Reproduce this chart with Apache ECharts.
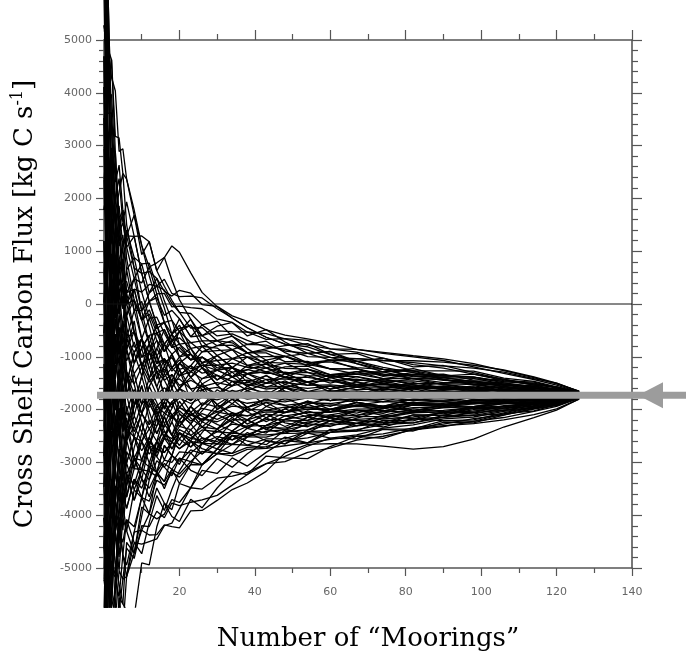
<!DOCTYPE html>
<html>
<head>
<meta charset="utf-8">
<title>Cross shelf carbon flux vs number of moorings</title>
<script src="https://cdn.jsdelivr.net/npm/echarts@6/dist/echarts.min.js"></script>
<style>
  html, body { margin: 0; padding: 0; background: #fff; }
  #chart { width: 686px; height: 656px; }
</style>
</head>
<body>
<div id="chart"></div>
<script>
// x positions shared by every resampling run (number of "moorings")
const moorings = [0, 1, 2, 3, 4, 5, 6, 8, 10, 12, 14, 16, 18, 20, 23, 26, 30, 34, 38, 43,
  48, 54, 60, 67, 74, 82, 90, 98, 106, 114, 120, 126];

// running-mean flux of each resampling run [kg C s-1]
const run01 = [5280, 4430, 2620, 2890, 1350, 1780, 1080, 480, 400, 700, 780, 880, 1100, 980, 590, 220, -50, -270, -450, -630, -760, -810, -960, -1080, -1200, -1300, -1395, -1470, -1540, -1600, -1650, -1700];
const run02 = [7610, 3610, 3620, 2310, 2630, 1775, 1290, 1280, 580, 615, 485, 240, 150, 260, 205, -10, -45, -225, -330, -490, -590, -660, -740, -860, -935, -1000, -1070, -1190, -1315, -1430, -1535, -1670];
const run03 = [3530, 4020, 4625, 3175, 3145, 2475, 2365, 1680, 1110, 695, 190, 200, -55, -40, -70, -90, -280, -350, -530, -560, -660, -780, -850, -910, -1025, -1150, -1215, -1330, -1430, -1515, -1570, -1680];
const run04 = [9940, 5660, 2290, 2600, 1100, 1310, 645, 880, 225, 370, 340, 470, 200, 140, 150, 115, -90, -265, -450, -630, -760, -875, -1010, -1035, -1070, -1110, -1170, -1215, -1290, -1415, -1500, -1660];
const run05 = [-6380, -2540, -380, 580, 1350, 1540, 1075, 1280, 1290, 1180, 630, 335, 70, -160, -180, -395, -605, -565, -690, -815, -855, -995, -1010, -1130, -1240, -1265, -1360, -1385, -1470, -1500, -1580, -1690];
const run06 = [7025, 1970, 280, 870, -180, 375, 430, -120, -125, 50, -395, -350, -310, -520, -730, -700, -695, -865, -765, -780, -890, -935, -1065, -1035, -1070, -1075, -1100, -1160, -1250, -1380, -1500, -1655];
const run07 = [30, 1970, 2960, 1450, 1860, 1075, 1290, 680, 580, 50, 120, -215, -120, -280, -620, -600, -790, -780, -925, -885, -990, -1115, -1095, -1205, -1240, -1360, -1395, -1470, -1495, -1565, -1630, -1705];
const run08 = [8770, 6070, 3290, 2020, 840, -90, 0, -520, -835, -595, -545, -760, -570, -760, -730, -905, -885, -865, -1005, -995, -990, -1115, -1230, -1230, -1330, -1340, -1360, -1385, -1470, -1515, -1595, -1670];
const run09 = [-11050, -6640, -4390, -2870, -1720, -1020, -645, -920, -660, -915, -690, -900, -700, -640, -840, -800, -835, -1035, -1005, -1105, -1120, -1145, -1230, -1330, -1330, -1415, -1490, -1495, -1560, -1635, -1650, -1710];
const run10 = [2360, 3200, 1285, 1735, 585, 845, 215, 280, 225, -270, -250, -555, -825, -760, -950, -1110, -1070, -1035, -1165, -1140, -1220, -1235, -1340, -1330, -1415, -1415, -1430, -1495, -1520, -1585, -1640, -1685];
const run11 = [-3470, -490, -1390, -280, -950, -320, -860, -520, -1010, -755, -985, -760, -950, -820, -1060, -1005, -1160, -1120, -1200, -1210, -1320, -1295, -1365, -1375, -1460, -1455, -1525, -1580, -1585, -1650, -1665, -1695];
const run12 = [9360, 4020, 3960, 2600, 1610, 610, 0, 80, -305, -755, -1130, -1035, -1270, -1120, -1280, -1160, -1160, -1290, -1245, -1320, -1290, -1355, -1365, -1450, -1435, -1510, -1510, -1525, -1585, -1600, -1650, -1710];
const run13 = [-8130, -3770, -2055, -1145, -1465, -790, -1075, -720, -1190, -915, -1205, -1035, -1210, -1060, -1225, -1160, -1255, -1205, -1320, -1285, -1390, -1390, -1450, -1425, -1500, -1570, -1555, -1610, -1655, -1650, -1685, -1700];
const run14 = [4110, 740, 1285, 10, 330, -555, -215, -820, -660, -1075, -840, -1105, -1015, -1240, -1170, -1310, -1255, -1380, -1320, -1430, -1420, -1480, -1445, -1525, -1525, -1530, -1590, -1580, -1630, -1635, -1675, -1715];
const run15 = [1195, -1720, -385, -1430, -695, -1255, -860, -1320, -1100, -1400, -1205, -1380, -1210, -1360, -1280, -1415, -1350, -1465, -1440, -1505, -1485, -1540, -1530, -1575, -1570, -1605, -1605, -1635, -1640, -1670, -1695, -1730];
const run16 = [-9880, -5820, -3725, -2295, -2490, -1720, -1290, -1520, -1190, -1480, -1280, -1445, -1335, -1540, -1445, -1565, -1490, -1550, -1480, -1575, -1555, -1600, -1555, -1620, -1610, -1665, -1640, -1665, -1700, -1685, -1710, -1710];
const run17 = [-555, 1150, -50, 870, 70, 610, 0, 280, -305, -190, -545, -485, -760, -1000, -950, -1210, -1350, -1465, -1520, -1610, -1585, -1660, -1640, -1695, -1655, -1680, -1655, -1690, -1675, -1705, -1695, -1720];
const run18 = [5860, 1560, -720, -1720, -2490, -1955, -2365, -1920, -1720, -1960, -1720, -1585, -1720, -1600, -1720, -1620, -1580, -1675, -1600, -1685, -1655, -1720, -1665, -1645, -1700, -1665, -1705, -1690, -1720, -1695, -1715, -1710];
const run19 = [-4635, -5410, -3390, -3735, -2745, -3120, -2365, -2520, -2075, -2285, -1940, -2065, -1850, -1720, -1830, -1670, -1765, -1635, -1720, -1650, -1720, -1660, -1745, -1695, -1740, -1700, -1720, -1750, -1720, -1735, -1720, -1725];
const run20 = [7610, 2790, 620, 870, -185, 145, -645, -520, -1010, -915, -1280, -1240, -1465, -1420, -1610, -1565, -1720, -1675, -1760, -1720, -1785, -1720, -1745, -1770, -1720, -1760, -1735, -1705, -1730, -1710, -1725, -1720];
const run21 = [-2885, -900, -2390, -1430, -2230, -1485, -2040, -1620, -1895, -1720, -1940, -1790, -1910, -1780, -1885, -1770, -1815, -1720, -1800, -1755, -1820, -1750, -1775, -1745, -1785, -1740, -1755, -1720, -1745, -1720, -1730, -1715];
const run22 = [-6965, -4180, -4725, -3450, -3510, -2885, -3010, -2520, -2605, -2205, -2310, -2065, -2170, -1960, -2050, -1875, -1955, -1805, -1880, -1830, -1855, -1780, -1830, -1795, -1805, -1760, -1785, -1760, -1765, -1735, -1745, -1720];
const run23 = [1780, 2380, 280, -855, -440, -1255, -1720, -1320, -1895, -1720, -2015, -1855, -2105, -1960, -2105, -1975, -2045, -1935, -1960, -1865, -1920, -1870, -1885, -1820, -1850, -1815, -1820, -1775, -1790, -1755, -1755, -1730];
const run24 = [-2300, -3360, -2055, -2730, -1975, -2420, -2040, -2420, -2075, -2365, -2160, -2335, -2105, -2260, -2105, -2180, -2045, -2105, -1995, -2010, -1955, -1960, -1910, -1915, -1850, -1870, -1835, -1830, -1800, -1795, -1760, -1740];
const run25 = [-12800, -7870, -5730, -5465, -4280, -3585, -3655, -3120, -3135, -2685, -2750, -2475, -2550, -2320, -2380, -2180, -2230, -2105, -2120, -2045, -2055, -1990, -1995, -1940, -1960, -1890, -1900, -1860, -1855, -1805, -1790, -1735];
const run26 = [-1720, -3770, -4390, -3160, -3770, -3120, -3440, -2920, -2960, -2605, -2750, -2540, -2615, -2380, -2490, -2330, -2370, -2190, -2195, -2085, -2120, -2055, -2050, -1990, -1980, -1910, -1915, -1875, -1835, -1820, -1780, -1750];
const run27 = [4690, 330, -1050, -2010, -1465, -2185, -2580, -2320, -2605, -2365, -2600, -2405, -2615, -2440, -2545, -2385, -2420, -2275, -2315, -2190, -2185, -2115, -2100, -2015, -2025, -1965, -1950, -1890, -1875, -1830, -1805, -1745];
const run28 = [-5220, -5410, -3725, -4310, -3510, -3815, -3225, -3420, -2960, -3090, -2750, -2815, -2615, -2740, -2545, -2585, -2420, -2445, -2315, -2300, -2220, -2205, -2130, -2110, -2045, -2025, -1965, -1945, -1890, -1855, -1800, -1755];
const run29 = [2940, -80, 620, -855, -1720, -2420, -1935, -2520, -2780, -2525, -2825, -2540, -2745, -2560, -2710, -2535, -2605, -2445, -2475, -2335, -2350, -2235, -2210, -2135, -2135, -2045, -2015, -1960, -1935, -1865, -1830, -1750];
const run30 = [-8720, -5000, -5395, -4025, -4280, -3585, -3870, -3320, -3490, -3090, -3190, -2955, -3000, -2800, -2820, -2640, -2650, -2490, -2515, -2410, -2385, -2295, -2265, -2185, -2155, -2060, -2045, -1970, -1945, -1875, -1835, -1765];
const run31 = [-3470, -2130, -3390, -3735, -3000, -3585, -3010, -3520, -3135, -3330, -2970, -3090, -2870, -2980, -2765, -2840, -2650, -2660, -2515, -2520, -2420, -2385, -2290, -2260, -2175, -2140, -2060, -2030, -1945, -1905, -1835, -1755];
const run32 = [8190, 2380, -50, -1720, -2490, -2885, -3225, -2920, -3135, -3170, -3265, -3020, -3130, -2920, -2985, -2790, -2835, -2660, -2675, -2555, -2550, -2415, -2400, -2310, -2265, -2175, -2145, -2055, -2015, -1925, -1870, -1770];
const run33 = [-7550, -7050, -5060, -5175, -4280, -4515, -4085, -4220, -3665, -3735, -3340, -3430, -3190, -3280, -3040, -3045, -2835, -2830, -2715, -2700, -2585, -2535, -2430, -2380, -2285, -2250, -2145, -2110, -2015, -1960, -1870, -1780];
const run34 = [-4050, -5000, -3390, -4310, -3255, -3815, -3225, -3720, -3315, -3490, -3190, -3365, -3130, -3220, -2985, -3045, -2835, -2875, -2755, -2735, -2685, -2630, -2565, -2505, -2460, -2345, -2275, -2170, -2100, -1990, -1915, -1780];
const run35 = [-10465, -7050, -6730, -5750, -5815, -5215, -5160, -4720, -4285, -4375, -4370, -4185, -4215, -4240, -3920, -3910, -3720, -3515, -3390, -3170, -2820, -2660, -2645, -2650, -2690, -2750, -2700, -2560, -2330, -2150, -2010, -1800];
const run36 = [-5800, -6230, -6400, -5175, -5560, -4750, -4945, -4320, -4285, -3975, -4070, -3980, -3705, -3760, -3480, -3505, -3300, -3260, -3190, -3025, -2985, -2810, -2730, -2580, -2505, -2385, -2320, -2225, -2150, -2035, -1940, -1785];
const run37 = [-12215, -8280, -6060, -6040, -5050, -5215, -4625, -4820, -4200, -4215, -3925, -4050, -3770, -3820, -3755, -3710, -3625, -3430, -3230, -3025, -2885, -2690, -2540, -2480, -2350, -2290, -2175, -2140, -2035, -1975, -1880, -1770];
const run38 = [610, -1720, -50, 585, -185, 375, -215, 80, -305, -110, -470, -350, -570, -460, -400, -600, -510, -525, -530, -670, -655, -690, -850, -860, -915, -980, -1040, -1130, -1260, -1395, -1515, -1650];
const run39 = [6440, 4840, 4290, 4040, 2890, 2940, 2365, 1780, 1110, 535, 45, -350, -695, -880, -1060, -1005, -1210, -1205, -1320, -1285, -1390, -1480, -1445, -1550, -1525, -1585, -1575, -1635, -1630, -1670, -1670, -1710];
const run40 = [3530, -490, -2055, -2870, -2230, -2885, -2365, -2920, -2605, -2845, -2600, -2815, -2615, -2740, -2600, -2640, -2510, -2575, -2475, -2480, -2450, -2445, -2430, -2405, -2370, -2365, -2305, -2265, -2195, -2095, -1985, -1800];
const run41 = [-5220, -2540, -720, 295, 840, 1075, 1400, 880, 760, 775, 340, 265, 10, -160, -455, -445, -695, -735, -925, -925, -1090, -1085, -1230, -1230, -1350, -1360, -1445, -1455, -1530, -1560, -1620, -1690];
const run42 = [11100, 5250, 1620, 10, -950, -555, -1290, -1720, -2075, -1800, -2090, -1925, -2170, -2020, -2215, -2075, -2185, -2060, -2120, -2010, -2055, -1960, -1995, -1915, -1940, -1870, -1880, -1830, -1830, -1790, -1780, -1730];
const run43 = [2945, 3200, 620, 1450, -185, 375, -860, -320, -1190, -755, -1425, -1035, -1590, -1240, -1830, -1515, -2000, -1805, -2040, -1865, -2055, -1900, -2045, -1915, -2025, -1910, -1915, -1830, -1835, -1770, -1765, -1730];
const run44 = [-3470, -5000, -5730, -4310, -5050, -4050, -4300, -3520, -3665, -3010, -3190, -2680, -2870, -2440, -2600, -2230, -2370, -2060, -2195, -1940, -2055, -1840, -1940, -1770, -1850, -1720, -1785, -1690, -1745, -1685, -1720, -1710];
const run45 = [7025, 2380, 2620, 870, -185, 145, -645, -1120, -835, -1400, -1720, -1310, -1590, -1960, -1720, -1415, -1255, -1380, -1165, -1285, -1190, -1175, -1340, -1280, -1285, -1415, -1395, -1410, -1520, -1550, -1630, -1695];
const run46 = [-4635, -2540, -720, 10, 840, -90, 645, -120, -660, -270, -690, -1170, -950, -1360, -1170, -1515, -1720, -1890, -1640, -1940, -1785, -1960, -2045, -1865, -1940, -2025, -1915, -1970, -1880, -1890, -1810, -1745];
const run47 = [-9300, -8690, -6395, -6905, -5560, -5680, -4515, -4720, -3845, -3975, -3190, -3365, -2870, -3040, -2600, -2740, -2835, -2490, -2595, -2665, -2385, -2445, -2210, -2260, -2285, -2100, -2110, -1970, -1970, -1940, -1845, -1775];
const run48 = [-555, 740, 1620, 2025, 2375, 1540, 1935, 1280, 580, 50, 190, -350, -695, -520, -400, -800, -695, -610, -765, -705, -920, -1115, -1065, -1085, -1240, -1380, -1360, -1385, -1495, -1585, -1605, -1690];
const run49 = [-6385, -3360, -4060, -2585, -1465, -2185, -1290, -1920, -1545, -2205, -2455, -2130, -2490, -2680, -2380, -2640, -2370, -2150, -2355, -2155, -1985, -2145, -1995, -1865, -1940, -1795, -1850, -1890, -1810, -1840, -1780, -1730];
const run50 = [30, -2130, -385, -1430, -440, -1255, -1720, -1120, -835, -595, -1130, -760, -570, -1000, -840, -1210, -1440, -1205, -1400, -1575, -1455, -1660, -1555, -1720, -1635, -1570, -1690, -1635, -1720, -1685, -1730, -1715];
const run51 = [-13380, -7870, -5395, -3735, -4025, -2885, -2365, -1720, -2075, -1560, -1280, -1720, -1465, -1120, -1390, -1110, -975, -1205, -1005, -1210, -1385, -1235, -1395, -1525, -1415, -1530, -1620, -1580, -1675, -1650, -1695, -1720];
const run52 = [4110, 330, -1385, -2585, -1975, -2885, -2150, -2920, -3315, -2685, -3190, -3500, -3130, -3400, -3040, -2640, -2745, -2405, -2195, -2375, -2185, -2025, -2155, -2015, -2110, -1985, -2045, -1945, -1855, -1875, -1800, -1740];
const run53 = [-2305, -80, 950, -280, 585, 1075, 215, 480, 760, 210, 485, 60, -310, -760, -1060, -800, -1070, -1380, -1560, -1355, -1520, -1355, -1500, -1375, -1500, -1415, -1525, -1610, -1560, -1635, -1685, -1715];
const run54 = [-1720, -4180, -2390, -3735, -2745, -1955, -2580, -2120, -2430, -1880, -2160, -1855, -1465, -1720, -2050, -2230, -1905, -2060, -2275, -2085, -2250, -2325, -2155, -2260, -2110, -2175, -2045, -2085, -1970, -1890, -1860, -1755];
const run55 = [1780, 2380, 2955, 1450, 70, -790, -1720, -2320, -1895, -1400, -985, -1310, -950, -1240, -1610, -1925, -1720, -1465, -1640, -1795, -1585, -1720, -1830, -1670, -1765, -1835, -1720, -1665, -1745, -1705, -1685, -1720];
const run56 = [-7550, -4180, -4725, -5175, -4025, -4750, -5160, -4520, -4730, -4135, -3630, -3910, -3510, -3160, -2820, -3045, -2745, -2490, -2675, -2735, -2520, -2630, -2430, -2260, -2330, -2175, -2210, -2195, -2060, -1940, -1895, -1770];
const run57 = [610, 1970, -50, -1145, -185, -1020, -215, 280, -305, 50, -395, -900, -695, -520, -950, -1210, -975, -1205, -1480, -1355, -1585, -1480, -1665, -1575, -1460, -1570, -1490, -1470, -1560, -1635, -1640, -1705];
const run58 = [-4050, -5410, -3390, -4025, -4535, -3585, -2795, -3120, -2430, -2685, -2160, -2540, -2230, -1840, -2160, -2330, -2555, -2660, -2435, -2590, -2650, -2445, -2540, -2555, -2375, -2405, -2240, -2250, -2105, -1975, -1925, -1785];
const run59 = [5275, 4840, 4625, 2890, 1610, 1775, 860, 80, -660, -1235, -840, -485, -825, -520, -290, -600, -420, -350, -605, -485, -720, -935, -900, -1130, -1285, -1265, -1430, -1525, -1520, -1620, -1630, -1700];
const run60 = [-11050, -6640, -4390, -4890, -5305, -5680, -5805, -5920, -4905, -4940, -4220, -3775, -3895, -3400, -3480, -3045, -2745, -2830, -2515, -2300, -2385, -2145, -2210, -2015, -2070, -1910, -1950, -1830, -1855, -1770, -1780, -1730];
const run61 = [3525, -80, -1720, -570, -1465, -2420, -1505, -920, -1365, -915, -1280, -1720, -1975, -1600, -1830, -1515, -1350, -1550, -1320, -1500, -1320, -1235, -1395, -1280, -1415, -1340, -1330, -1440, -1430, -1535, -1615, -1695];
const run62 = [-5800, -2950, -3725, -2295, -3000, -3585, -3870, -3320, -3665, -3170, -2600, -2955, -2615, -2200, -1940, -2230, -2000, -1720, -1960, -1795, -1585, -1780, -1665, -1820, -1720, -1835, -1755, -1690, -1765, -1720, -1745, -1715];
const run63 = [9940, 4430, 1955, 295, -950, -320, -1290, -2120, -1545, -2040, -2455, -2130, -2490, -2200, -2490, -2640, -2370, -2575, -2355, -2155, -2320, -2145, -1995, -2110, -1980, -1870, -1915, -1805, -1835, -1840, -1780, -1730];
const run64 = [-2885, -490, 620, 1160, 1610, 610, 1290, 1680, 935, 1180, 630, 885, 455, 80, -290, -700, -975, -865, -1165, -1065, -1320, -1480, -1340, -1475, -1590, -1490, -1590, -1665, -1610, -1670, -1660, -1710];
const run65 = [-9880, -5820, -3725, -4310, -3255, -2420, -3010, -2520, -2960, -2525, -2895, -3090, -3255, -2920, -3150, -3250, -2930, -3090, -2835, -2590, -2650, -2385, -2210, -2310, -2155, -2025, -2080, -1970, -1990, -1890, -1870, -1765];
const run66 = [-1135, -3360, -1385, -280, -1210, -320, 215, -520, -1190, -1720, -2160, -1720, -1335, -1600, -1280, -1005, -1255, -1035, -925, -1140, -990, -1175, -1065, -1230, -1370, -1300, -1430, -1525, -1610, -1585, -1650, -1705];
const run67 = [-6965, -7050, -7400, -5750, -4280, -3350, -2580, -3120, -2605, -3010, -2600, -2130, -1850, -2200, -1940, -1620, -1905, -2150, -1960, -2155, -1985, -1840, -1995, -2065, -1940, -2025, -1915, -1945, -1855, -1790, -1790, -1735];
const run68 = [6440, 6070, 3290, 1735, 330, 845, 0, 480, -125, 210, 340, -75, -570, -400, -840, -1110, -1440, -1290, -1560, -1430, -1655, -1780, -1665, -1575, -1675, -1605, -1555, -1635, -1695, -1670, -1710, -1725];
const run69 = [-4635, -1720, -2720, -3735, -4280, -4750, -4085, -4520, -4550, -4500, -4450, -4200, -4150, -3880, -3480, -3150, -3210, -2915, -3070, -2810, -2585, -2630, -2375, -2405, -2200, -2215, -2045, -2055, -1925, -1905, -1810, -1760];
const run70 = [30, 1560, 2290, 585, -695, -1485, -860, -1520, -2075, -1560, -1865, -2270, -1975, -1600, -1390, -1620, -1905, -1720, -1960, -1795, -1585, -1480, -1610, -1475, -1590, -1680, -1620, -1580, -1650, -1650, -1695, -1710];
const run71 = [-8715, -4590, -2720, -1720, -2490, -3120, -3655, -2920, -3315, -3650, -3190, -2680, -2870, -2440, -2600, -2840, -2555, -2235, -2355, -2445, -2185, -2265, -2320, -2160, -2025, -2060, -1950, -1860, -1880, -1855, -1790, -1750];
const run72 = [1195, -1310, -50, 870, 1350, 375, -430, -1120, -660, -1075, -1575, -1170, -1465, -1120, -950, -1210, -1535, -1805, -1640, -1500, -1385, -1540, -1395, -1330, -1285, -1225, -1360, -1330, -1450, -1480, -1580, -1680];
const run73 = [-11630, -9920, -7065, -5175, -3770, -4285, -3440, -2720, -2250, -2685, -2895, -2540, -2105, -2320, -1940, -2130, -2280, -2405, -2195, -2375, -2450, -2265, -2100, -2210, -2240, -2250, -2110, -2000, -2015, -1905, -1870, -1760];
const run74 = [2360, -490, -2055, -3160, -2230, -1255, -645, -120, 50, -430, -985, -1445, -1720, -2080, -2270, -2025, -1720, -1550, -1320, -1210, -1120, -1295, -1445, -1575, -1500, -1645, -1720, -1775, -1695, -1735, -1710, -1730];
const run75 = [-5220, -5820, -6395, -6905, -5560, -6145, -5160, -4320, -3665, -3975, -3485, -3775, -4025, -4120, -3700, -3860, -3485, -3175, -3230, -2880, -2915, -2930, -2700, -2505, -2545, -2365, -2210, -2225, -2080, -2025, -1905, -1775];
const run76 = [4695, 1150, -720, -2010, -1210, -1955, -2580, -1920, -1365, -1880, -2160, -2540, -2230, -2560, -2270, -1925, -1625, -1805, -1560, -1720, -1520, -1660, -1830, -1720, -1590, -1530, -1620, -1550, -1630, -1620, -1675, -1710];
const run77 = [-2885, -4180, -5060, -3735, -2745, -3350, -2580, -1920, -1365, -915, -545, -900, -570, -280, -620, -395, -325, -610, -845, -1065, -990, -935, -900, -1085, -1025, -1190, -1165, -1300, -1430, -1535, -1570, -1680];
const run78 = [-1720, 330, -1050, 10, -950, -1720, -2365, -1720, -2250, -2685, -2310, -1855, -2105, -2320, -2050, -2330, -2090, -1890, -2040, -2230, -2055, -1900, -1775, -1865, -1980, -1870, -1915, -1805, -1835, -1770, -1730, -1730];
const run79 = [8190, 3610, 1285, 1735, 2120, 2475, 1505, 680, -125, -755, -395, -760, -1210, -1000, -1390, -1210, -1535, -1380, -1245, -1140, -1320, -1480, -1610, -1525, -1675, -1605, -1720, -1665, -1630, -1685, -1720, -1710];
const run80 = [-8135, -7870, -5730, -4310, -4790, -3815, -4300, -4720, -4020, -3330, -2750, -2270, -2490, -2080, -2270, -2535, -2650, -2405, -2515, -2300, -2120, -2205, -1995, -1865, -1940, -1795, -1850, -1775, -1720, -1755, -1720, -1725];
const run81 = [-555, -2540, -1050, -2295, -1465, -790, -1505, -920, -660, -1235, -1575, -1995, -1590, -1360, -1170, -905, -790, -695, -925, -850, -790, -750, -955, -935, -1110, -1265, -1265, -1270, -1405, -1465, -1570, -1675];
const run82 = [-6385, -2950, -1385, -2585, -3510, -4050, -3225, -3720, -3135, -2525, -2015, -2405, -2745, -2440, -2710, -2435, -2090, -2235, -1960, -1795, -1920, -2085, -2155, -2210, -2240, -2100, -2110, -2110, -2080, -1960, -1905, -1770];

const runs = [run01, run02, run03, run04, run05, run06, run07, run08, run09, run10,
  run11, run12, run13, run14, run15, run16, run17, run18, run19, run20,
  run21, run22, run23, run24, run25, run26, run27, run28, run29, run30,
  run31, run32, run33, run34, run35, run36, run37, run38, run39, run40,
  run41, run42, run43, run44, run45, run46, run47, run48, run49, run50,
  run51, run52, run53, run54, run55, run56, run57, run58, run59, run60,
  run61, run62, run63, run64, run65, run66, run67, run68, run69, run70,
  run71, run72, run73, run74, run75, run76, run77, run78, run79, run80,
  run81, run82];

// flux of the full set of moorings (grey arrow line)
const meanFlux = -1730;

const axisColor = '#555';
const labelFont = { color: '#666', fontFamily: 'DejaVu Sans', fontSize: 11 };
const titleFont = 'DejaVu Serif';

const chart = echarts.init(document.getElementById('chart'), null, { renderer: 'canvas' });

// frame axes (grid 0) and a taller hidden grid for the runs, so that they
// spill past the frame the way the original plot does
const frameX = (pos, showLabel) => ({
  type: 'value', gridIndex: 0, position: pos, min: 0, max: 140, interval: 20,
  axisLine: { show: true, onZero: false, lineStyle: { color: axisColor, width: 1.6 } },
  axisTick: { show: true, length: pos === 'top' ? 10 : 8, lineStyle: { color: axisColor, width: 1.2 } },
  minorTick: { show: true, splitNumber: 2, length: pos === 'top' ? 6 : 5, lineStyle: { color: axisColor, width: 1.2 } },
  splitLine: { show: false },
  axisLabel: Object.assign({ show: showLabel, margin: 19, formatter: v => (v === 0 ? '' : String(v)) }, labelFont)
});

const frameY = (pos, showLabel) => ({
  type: 'value', gridIndex: 0, position: pos, min: -5000, max: 5000, interval: 1000,
  axisLine: { show: true, onZero: false, lineStyle: { color: axisColor, width: 1.6 } },
  axisTick: { show: true, length: pos === 'right' ? 10 : 8, lineStyle: { color: axisColor, width: 1.2 } },
  minorTick: { show: true, splitNumber: 5, length: pos === 'right' ? 6 : 5, lineStyle: { color: axisColor, width: 1.2 } },
  splitLine: { show: false },
  axisLabel: Object.assign({ show: showLabel, margin: 12, formatter: v => String(v) }, labelFont)
});

const xBottom = frameX('bottom', true);
xBottom.name = 'Number of \u201cMoorings\u201d';
xBottom.nameLocation = 'middle';
xBottom.nameGap = 58;
xBottom.nameTextStyle = { fontFamily: titleFont, fontSize: 26, color: '#000' };

const yLeft = frameY('left', true);
yLeft.name = '{t|Cross Shelf Carbon Flux [kg C s}{s|-1}{t|]}';
yLeft.nameLocation = 'middle';
yLeft.nameRotate = 90;
yLeft.nameGap = 64;
yLeft.nameTextStyle = {
  rich: {
    t: { fontFamily: titleFont, fontSize: 26, color: '#000', lineHeight: 30 },
    s: { fontFamily: titleFont, fontSize: 16, color: '#000', lineHeight: 10, verticalAlign: 'top' }
  }
};

const series = runs.map((r, i) => ({
  name: 'run' + (i + 1),
  type: 'line',
  xAxisIndex: 2,
  yAxisIndex: 2,
  data: moorings.map((m, j) => [m, r[j]]),
  showSymbol: false,
  symbol: 'none',
  silent: true,
  clip: true,
  lineStyle: { color: '#000', width: 1.3 }
}));

series.push({
  name: 'zero',
  type: 'line',
  xAxisIndex: 0,
  yAxisIndex: 0,
  data: [[0, 0], [140, 0]],
  symbol: 'none',
  silent: true,
  lineStyle: { color: '#111', width: 1 },
  z: 3
});

chart.setOption({
  animation: false,
  backgroundColor: '#fff',
  grid: [
    { left: 104, right: 54, top: 40, bottom: 88, outerBoundsMode: 'none' },
    { left: 104, right: 54, top: 0, bottom: 49, outerBoundsMode: 'none' }
  ],
  xAxis: [
    xBottom,
    frameX('top', false),
    { type: 'value', gridIndex: 1, min: 0, max: 140, show: false }
  ],
  yAxis: [
    yLeft,
    frameY('right', false),
    { type: 'value', gridIndex: 1, min: -5739, max: 5758, show: false }
  ],
  series
});

// grey line + arrow marking the all-mooring flux, placed through the axes
const barStart = chart.convertToPixel({ xAxisIndex: 0, yAxisIndex: 0 }, [0, meanFlux]);
const barEnd = chart.convertToPixel({ xAxisIndex: 0, yAxisIndex: 0 }, [140, meanFlux]);
const yBar = barStart[1];
const grey = '#9c9c9c';

chart.setOption({
  graphic: [
    {
      type: 'line', z: 100, silent: true,
      shape: { x1: barStart[0] - 7, y1: yBar, x2: chart.getWidth(), y2: yBar },
      style: { stroke: grey, lineWidth: 7 }
    },
    {
      type: 'polygon', z: 100, silent: true,
      shape: { points: [[barEnd[0] + 6, yBar], [barEnd[0] + 31, yBar - 13], [barEnd[0] + 31, yBar + 13]] },
      style: { fill: grey }
    }
  ]
});
</script>
</body>
</html>
